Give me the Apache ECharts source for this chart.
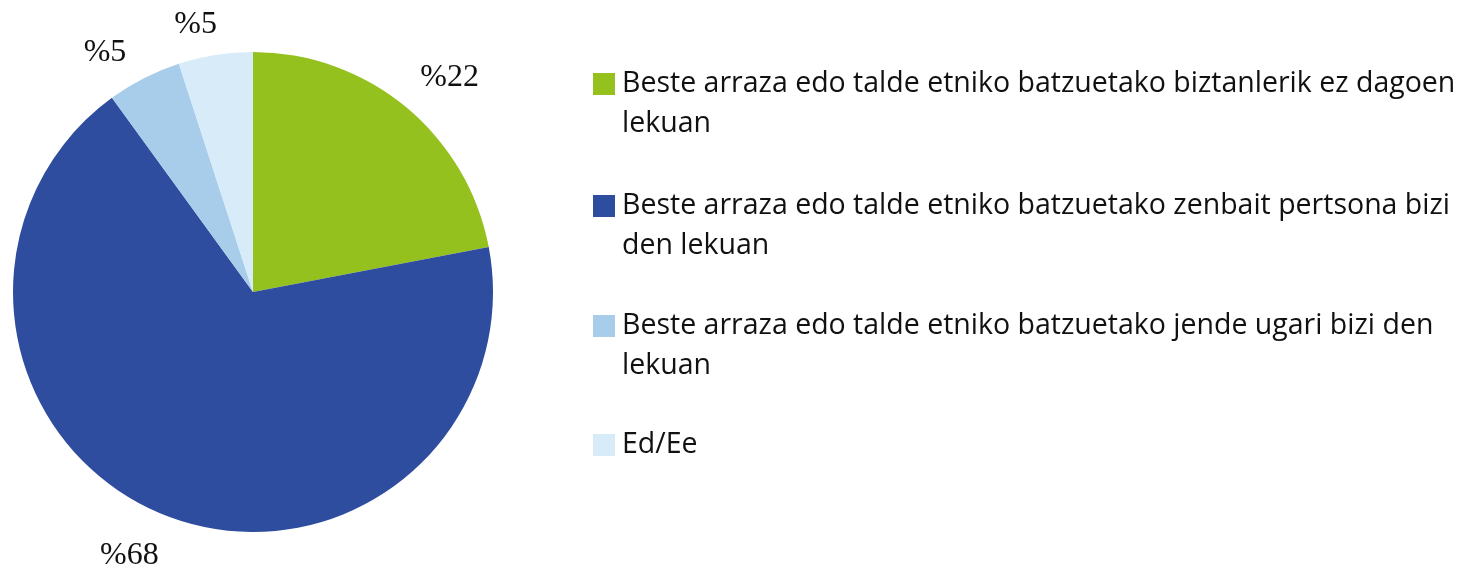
<!DOCTYPE html>
<html>
<head>
<meta charset="utf-8">
<script src="https://cdn.jsdelivr.net/npm/echarts@6/dist/echarts.min.js"></script>
<style>
  html, body { margin: 0; padding: 0; background: #fff; }
  #chart { width: 1474px; height: 568px; }
</style>
</head>
<body>
<div id="chart"></div>
<script>
var categories = [
    'Beste arraza edo talde etniko batzuetako biztanlerik ez dagoen lekuan',
    'Beste arraza edo talde etniko batzuetako zenbait pertsona bizi den lekuan',
    'Beste arraza edo talde etniko batzuetako jende ugari bizi den lekuan',
    'Ed/Ee'
];
var legendLabels = [
    'Beste arraza edo talde etniko batzuetako biztanlerik ez dagoen\nlekuan',
    'Beste arraza edo talde etniko batzuetako zenbait pertsona bizi\nden lekuan',
    'Beste arraza edo talde etniko batzuetako jende ugari bizi den\nlekuan',
    'Ed/Ee'
];
var values = [22, 68, 5, 5];
var colors = ['#95c11f', '#2e4d9e', '#a7cdeb', '#d7ebf9'];

// layout tweaks (not data)
var legendTops = [24, 146, 266, 425];
var labelShift = [[-18, -3], [17, 8], [18, -2], [17, 4]];

var chart = echarts.init(document.getElementById('chart'));

var legends = categories.map(function (name, i) {
    var twoLines = legendLabels[i].indexOf('\n') >= 0;
    return {
        orient: 'vertical',
        left: 593,
        top: legendTops[i],
        padding: 0,
        itemWidth: 22,
        itemHeight: 22,
        itemGap: 0,
        icon: 'rect',
        selectedMode: false,
        data: [name],
        formatter: function () {
            // leading empty line keeps the square level with the first text line
            return twoLines ? ' \n' + legendLabels[i] : legendLabels[i];
        },
        textStyle: {
            fontFamily: 'Open Sans',
            fontSize: 28.5,
            color: '#111',
            lineHeight: 40,
            padding: [0, 0, 0, 2]
        }
    };
});

chart.setOption({
    animation: false,
    color: colors,
    legend: legends,
    series: [
        {
            type: 'pie',
            center: [253, 292],
            radius: 240,
            startAngle: 90,
            clockwise: true,
            label: {
                show: true,
                position: 'outside',
                formatter: '%{c}',
                fontFamily: 'Liberation Serif',
                fontSize: 32,
                color: '#111'
            },
            labelLine: { show: false, length: 35, length2: 5 },
            labelLayout: function (p) {
                return { dx: labelShift[p.dataIndex][0], dy: labelShift[p.dataIndex][1] };
            },
            emphasis: { disabled: true },
            data: categories.map(function (name, i) {
                return { name: name, value: values[i] };
            })
        }
    ]
});
</script>
</body>
</html>
